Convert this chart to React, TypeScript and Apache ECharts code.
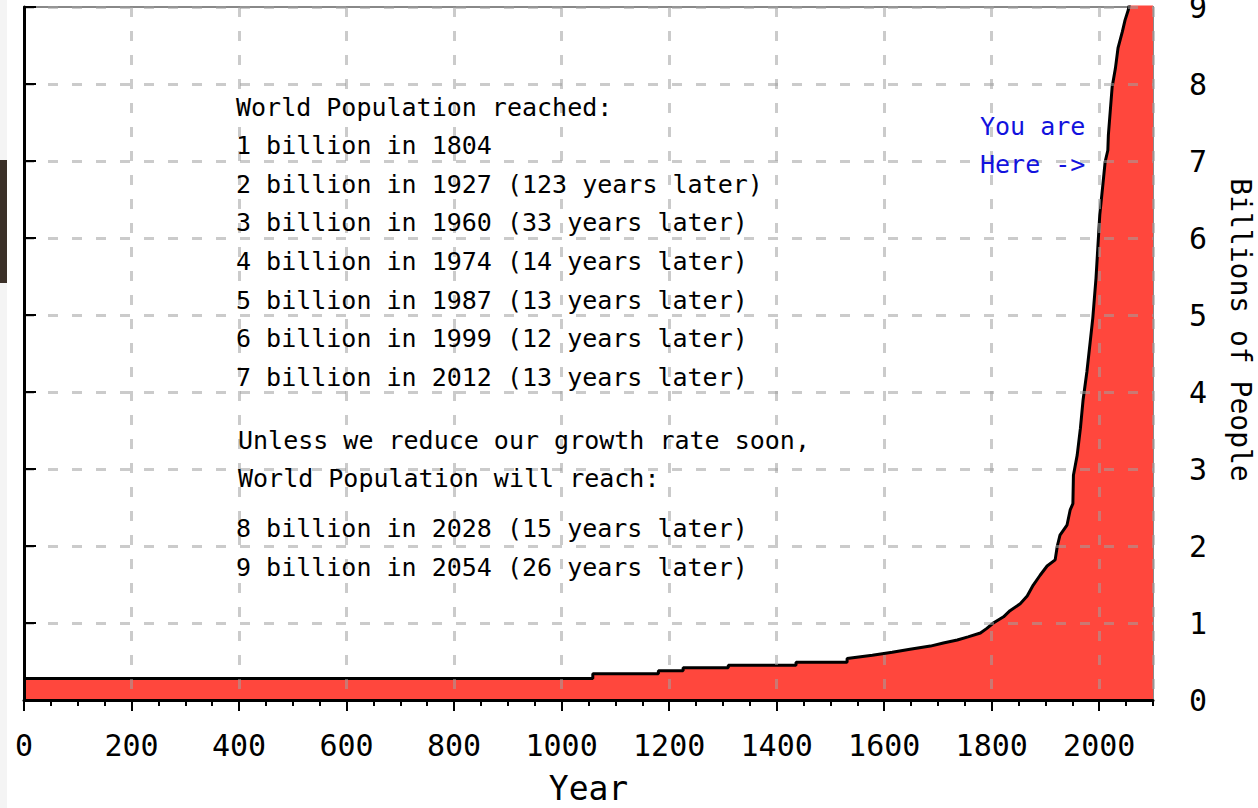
import React, { useEffect, useRef } from "react";
import * as echarts from "echarts";

// ---- data ----
const years = [
  0, 1058, 1058, 1180, 1180, 1226, 1226, 1310, 1310, 1436, 1436, 1531, 1531,
  1578, 1615, 1648, 1686, 1710, 1736, 1756, 1779, 1791, 1803, 1822, 1834,
  1853, 1866, 1877, 1890, 1903, 1918, 1922, 1927, 1940, 1946, 1951, 1952,
  1959, 1965, 1970, 1977, 1983, 1988, 1994, 2001, 2007, 2011, 2016, 2017,
  2024, 2030, 2035, 2043, 2048, 2054, 2058, 2100,
];
const population = [
  0.28, 0.28, 0.34, 0.34, 0.38, 0.38, 0.42, 0.42, 0.45, 0.45, 0.49, 0.49, 0.54,
  0.58, 0.62, 0.66, 0.7, 0.74, 0.78, 0.82, 0.87, 0.93, 1.0, 1.08, 1.16,
  1.25, 1.35, 1.49, 1.62, 1.74, 1.82, 2.0, 2.14, 2.27, 2.47, 2.55, 2.92,
  3.18, 3.53, 3.9, 4.26, 4.64, 4.96, 5.48, 6.3, 6.71, 6.99, 7.14, 7.34,
  7.96, 8.2, 8.47, 8.68, 8.83, 8.96, 9.1, 9.5,
];

const reachedLines = [
  "World Population reached:",
  "1 billion in 1804",
  "2 billion in 1927 (123 years later)",
  "3 billion in 1960 (33 years later)",
  "4 billion in 1974 (14 years later)",
  "5 billion in 1987 (13 years later)",
  "6 billion in 1999 (12 years later)",
  "7 billion in 2012 (13 years later)",
];
const warningLines = [
  "Unless we reduce our growth rate soon,",
  "World Population will reach:",
];
const futureLines = [
  "8 billion in 2028 (15 years later)",
  "9 billion in 2054 (26 years later)",
];
const hereLines = ["You are", "Here ->"];

const xAxisName = "Year";
const yAxisName = "Billions of People";

const MONO = "'DejaVu Sans Mono', monospace";

export default function App() {
  const ref = useRef<HTMLDivElement>(null);

  useEffect(() => {
    if (!ref.current) return;
    const chart = echarts.init(ref.current, undefined, { renderer: "svg" });

    const textEl = (
      text: string,
      x: number,
      y: number,
      fill = "#000",
      size = 25
    ) => ({
      type: "text",
      x,
      y,
      z: 50,
      style: {
        text,
        fill,
        fontFamily: MONO,
        fontSize: size,
        textVerticalAlign: "middle",
        textAlign: "left",
      },
    });

    const graphics: any[] = [
      { type: "rect", shape: { x: 0, y: 0, width: 7, height: 808 }, style: { fill: "#f4f4f4" }, z: 0 },
      { type: "rect", shape: { x: 0, y: 160, width: 7, height: 123 }, style: { fill: "#3b3028" }, z: 1 },
    ];
    reachedLines.forEach((t, i) => graphics.push(textEl(t, 236, 107 + i * 38.6)));
    warningLines.forEach((t, i) => graphics.push(textEl(t, 238, 440 + i * 38)));
    futureLines.forEach((t, i) => graphics.push(textEl(t, 236, 528 + i * 39)));
    hereLines.forEach((t, i) => graphics.push(textEl(t, 980, 126 + i * 38, "#1212dd")));
    graphics.push({
      type: "text",
      x: 1240,
      y: 330,
      rotation: -Math.PI / 2,
      z: 50,
      style: {
        text: yAxisName,
        fill: "#000",
        fontFamily: MONO,
        fontSize: 28,
        textAlign: "center",
        textVerticalAlign: "middle",
      },
    });

    const gridDash = {
      show: true,
      lineStyle: { color: "rgba(160,160,160,0.55)", width: 3, type: [10, 14] as any },
    };

    chart.setOption({
      animation: false,
      backgroundColor: "#fff",
      grid: {
        left: 24,
        right: 105,
        top: 7,
        bottom: 108,
        outerBoundsMode: "none",
        containLabel: false,
        show: true,
        borderColor: "#888",
        borderWidth: 2,
        backgroundColor: "transparent",
      },
      xAxis: [
        {
          type: "value",
          min: 0,
          max: 2100,
          interval: 200,
          position: "bottom",
          z: 5,
          name: xAxisName,
          nameLocation: "middle",
          nameGap: 72,
          nameTextStyle: { fontFamily: MONO, fontSize: 33, color: "#000" },
          axisLine: { show: true, lineStyle: { color: "#000", width: 3 } },
          axisTick: { show: true, length: 11, lineStyle: { color: "#000", width: 2 } },
          axisLabel: {
            show: true,
            showMaxLabel: false,
            margin: 30,
            fontFamily: MONO,
            fontSize: 30,
            color: "#000",
            formatter: (v: number) => String(v),
          },
          splitLine: gridDash,
        },
        {
          type: "value",
          min: 0,
          max: 2100,
          interval: 50,
          position: "bottom",
          offset: 0,
          z: 5,
          axisLine: { show: false },
          axisTick: { show: true, length: 6, lineStyle: { color: "#000", width: 2 } },
          axisLabel: { show: false },
          splitLine: { show: false },
        },
      ],
      yAxis: {
        type: "value",
        position: "right",
        min: 0,
        max: 9,
        interval: 1,
        z: 5,
        axisLine: { show: true, lineStyle: { color: "#000", width: 3 } },
        axisTick: { show: true, inside: false, length: 12, lineStyle: { color: "#000", width: 2 } },
        axisLabel: {
          margin: 36,
          fontFamily: MONO,
          fontSize: 30,
          color: "#000",
          formatter: (v: number) => String(v),
        },
        splitLine: gridDash,
      },
      series: [
        {
          type: "line",
          xAxisIndex: 0,
          data: years.map((y, i) => [y, population[i]]),
          showSymbol: false,
          symbol: "none",
          clip: true,
          z: 2,
          lineStyle: { color: "#000", width: 3 },
          areaStyle: { color: "#ff473d", opacity: 1 },
        },
      ],
      graphic: graphics,
    });

    return () => chart.dispose();
  }, []);

  return (
    <div
      ref={ref}
      style={{ position: "fixed", left: 0, top: 0, width: 1258, height: 808 }}
    />
  );
}
